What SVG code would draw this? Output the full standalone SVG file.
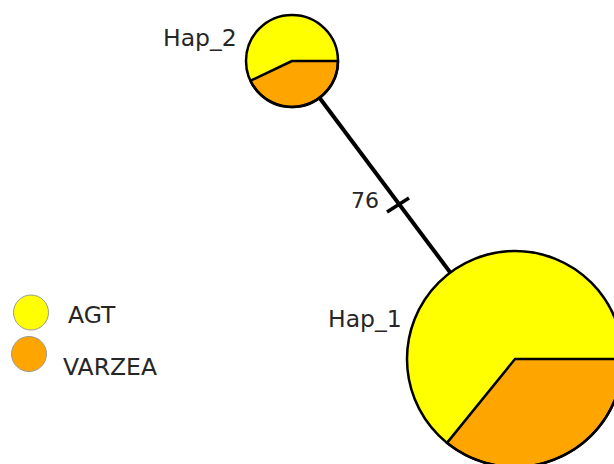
<svg xmlns="http://www.w3.org/2000/svg" width="614" height="464" viewBox="0 0 614 464">
<style>
text{font-family:"DejaVu Sans","Verdana",sans-serif;fill:#262626}
.lbl{font-size:23.5px}
.agt{fill:#FFFF00}
.var{fill:#FFA500}
.pie{fill:none;stroke:#000;stroke-width:2.5}
.sector{fill:#FFA500;stroke:#000;stroke-width:2.5;stroke-linejoin:round}
.leg{stroke:#999;stroke-width:1}
</style>
<rect width="614" height="464" fill="#fff"/>
<g id="connectors">
<line x1="292" y1="61" x2="515" y2="359" stroke="#000" stroke-width="4"/>
<line x1="387" y1="212" x2="409" y2="198" stroke="#000" stroke-width="3.5"/>
<text x="351" y="208" style="font-size:22px">76</text>
</g>
<g id="hap2">
<circle cx="292" cy="61" r="46" class="agt"/>
<path class="sector" d="M292,61 L338,61 A46,46 0 0 1 250.5,80.7 Z"/>
<circle cx="292" cy="61" r="46" class="pie"/>
<text class="lbl" x="163" y="46">Hap_2</text>
</g>
<g id="hap1">
<circle cx="515" cy="359" r="108" class="agt"/>
<path class="sector" d="M515,359 L623,359 A108,108 0 0 1 447,442.9 Z"/>
<circle cx="515" cy="359" r="108" class="pie"/>
<text class="lbl" x="328" y="327">Hap_1</text>
</g>
<g id="legend">
<circle cx="31" cy="312.5" r="17.5" class="agt leg"/>
<text class="lbl" x="68" y="323">AGT</text>
<circle cx="29" cy="354" r="17.5" class="var leg"/>
<text class="lbl" x="63" y="375">VARZEA</text>
</g>
</svg>
